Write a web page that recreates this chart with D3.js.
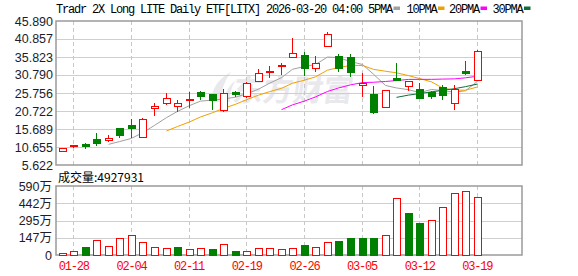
<!DOCTYPE html>
<html>
<head>
<meta charset="utf-8">
<script src="https://cdn.jsdelivr.net/npm/d3@7/dist/d3.min.js"></script>
<style>
body { margin: 0; background: #fff; }
svg { display: block; }
</style>
</head>
<body>
<div id="chart"></div>
<script>
// daily bars, 01-27 .. 03-19
const dates = ["01-27","01-28","01-29","01-30","02-02","02-03","02-04","02-05","02-06","02-09",
	"02-10","02-11","02-12","02-13","02-17","02-18","02-19","02-20","02-23","02-24",
	"02-25","02-26","02-27","03-02","03-03","03-04","03-05","03-06","03-09","03-10",
	"03-11","03-12","03-13","03-16","03-17","03-18","03-19"];
const open = [9.45,10.66,11.49,12.89,12.53,15.69,16.61,13.45,21.37,22.88,
	21.93,23.60,25.84,25.20,21.00,25.76,24.72,29.11,31.43,33.31,
	35.74,36.38,32.55,38.81,36.02,35.74,27.80,25.20,21.84,29.75,
	27.71,26.87,25.95,27.43,22.88,31.63,29.39];
const high = [10.38,11.30,11.86,14.57,14.01,15.88,18.57,18.76,22.88,25.84,
	23.80,25.95,26.40,25.39,26.79,26.31,28.75,32.55,33.31,34.23,
	41.22,37.14,36.10,42.73,36.58,36.58,31.26,27.71,26.60,34.23,
	29.11,28.55,26.40,27.99,27.99,34.79,37.86];
const low = [9.17,10.46,10.01,11.02,12.14,13.26,13.09,13.26,19.41,22.40,
	20.53,21.48,23.80,21.09,20.36,24.64,24.44,28.75,30.03,30.79,
	35.74,30.51,31.71,38.53,31.54,30.31,24.72,19.80,21.76,29.11,
	26.40,24.08,24.08,23.71,21.09,30.79,29.19];
const close = [10.18,11.13,10.74,11.77,13.17,14.01,15.69,18.48,22.12,24.08,
	22.68,23.80,24.72,23.52,25.67,25.20,28.47,31.26,31.82,33.50,
	36.86,32.47,33.95,42.25,32.66,31.43,28.36,20.36,26.51,29.19,
	29.00,24.27,24.72,25.00,26.87,31.07,37.50];
const volume = [150000,340000,600000,1200000,740000,1370000,1680000,1110000,660000,570000,
	600000,510000,570000,430000,940000,260000,340000,570000,570000,490000,
	570000,770000,660000,1030000,1140000,1450000,1370000,1450000,1710000,4850000,
	3530000,2680000,2910000,4020000,5270000,5470000,4927931];

const priceTicks = [5.622, 10.655, 15.689, 20.722, 25.756, 30.790, 35.823, 40.857, 45.890];
const volTicks = [0, 1475000, 2950000, 4425000, 5900000];
const dateTicks = ["01-28","02-04","02-11","02-19","02-26","03-05","03-12","03-19"];
const maPeriods = [5, 10, 20, 30];

const TITLE = "Tradr 2X Long LITE Daily ETF[LITX] 2026-03-20 04:00";
const RED = "#ff0000", GREEN = "#008000";
const MA_COLORS = ["#a0a0a0", "#f0a000", "#ff00ff", "#0d6e3a"];
const MONO = "'Liberation Mono', 'DejaVu Sans Mono', monospace";
const SANS = "Tahoma, 'Liberation Sans', 'Noto Sans CJK SC', sans-serif";

const W = 578, H = 276;
const plot = { L: 56, R: 522, T: 21, B: 165 };
const vol = { T: 186, B: 255 };
const STEP = 11.53;

const svg = d3.select("#chart").append("svg")
	.attr("width", W)
	.attr("height", H)
	.style("background", "#fff");

const x = d3.scaleBand()
	.domain(dates)
	.range([plot.L, plot.L + STEP * dates.length])
	.padding(0);
const cx = d => Math.round(x(d) + x.bandwidth() / 2);

const y = d3.scaleLinear()
	.domain([priceTicks[0], priceTicks[priceTicks.length - 1]])
	.range([plot.B, plot.T]);

const yv = d3.scaleLinear()
	.domain([0, volTicks[volTicks.length - 1]])
	.range([vol.B, vol.T]);

// watermark (logo + name)
const wm = svg.append("g").style("fill", "#e8e8ed");
wm.append("path")
	.attr("d", "M211,102 Q212,82 231,72 Q220,86 222,102 Z M224,102 Q225,88 236,80 Q229,90 230,102 Z");
wm.append("text")
	.attr("x", 232).attr("y", 101)
	.attr("transform", "skewX(-8) translate(14,0)")
	.style("font-family", "'Noto Sans CJK SC', sans-serif")
	.style("font-weight", "bold")
	.style("font-size", "30px")
	.text("东方财富");

// grid - horizontal
function hgrid(scale, ticks) {
	svg.append("g").selectAll("line")
		.data(ticks.slice(1, -1))
		.enter().append("line")
		.attr("x1", plot.L).attr("x2", plot.R)
		.attr("y1", d => Math.round(scale(d)) + 0.5)
		.attr("y2", d => Math.round(scale(d)) + 0.5)
		.attr("stroke", "#cfcfcf");
}
hgrid(y, priceTicks);
hgrid(yv, volTicks);

// grid - vertical dashed at date ticks
[[plot.T, plot.B], [vol.T, vol.B]].forEach(function(r) {
	svg.append("g").selectAll("line")
		.data(dateTicks)
		.enter().append("line")
		.attr("x1", d => cx(d) + 0.5).attr("x2", d => cx(d) + 0.5)
		.attr("y1", r[0]).attr("y2", r[1])
		.attr("stroke", "#c8c8c8")
		.attr("stroke-dasharray", "4,3");
});

// frames
[[plot.T, plot.B], [vol.T, vol.B]].forEach(function(r) {
	svg.append("rect")
		.attr("x", plot.L).attr("y", r[0])
		.attr("width", plot.R - plot.L).attr("height", r[1] - r[0])
		.attr("fill", "none")
		.attr("stroke", "#9a9a9a")
		.attr("stroke-width", 1.5);
});

// axes
const yAxis = d3.axisLeft(y).tickValues(priceTicks).tickFormat(d3.format(".3f")).tickSize(0).tickPadding(3);
const gy = svg.append("g").attr("transform", "translate(" + plot.L + ",0)").call(yAxis);

const vAxis = d3.axisLeft(yv).tickValues(volTicks)
	.tickFormat(d => d === 0 ? "0" : Math.floor(d / 10000) + "万")
	.tickSize(0).tickPadding(4);
const gv = svg.append("g").attr("transform", "translate(" + plot.L + ",0)").call(vAxis);

[gy, gv].forEach(function(g) {
	g.select(".domain").remove();
	g.selectAll("text")
		.style("font-family", SANS)
		.style("font-size", "12.5px")
		.style("fill", "#1c1c2c");
});

const xAxis = d3.axisBottom(x).tickValues(dateTicks).tickSize(0).tickPadding(6);
const gx = svg.append("g").attr("transform", "translate(0," + vol.B + ")").call(xAxis);
gx.select(".domain").remove();
gx.selectAll("text")
	.attr("x", 0.5)
	.style("font-family", MONO)
	.style("font-size", "12px")
	.style("letter-spacing", "-1.2px")
	.style("fill", RED);

// moving averages
maPeriods.forEach(function(n, k) {
	const ma = close.map((c, i) => i < n - 1 ? null : d3.mean(close.slice(i - n + 1, i + 1)));
	const line = d3.line()
		.defined(d => d != null)
		.x((d, i) => cx(dates[i]) + 0.5)
		.y(d => y(d));
	svg.append("path")
		.datum(ma)
		.attr("d", line)
		.attr("fill", "none")
		.attr("stroke", MA_COLORS[k])
		.attr("stroke-width", 1);
});

// candles
const idx = d3.range(dates.length);
const candle = svg.append("g").selectAll("g")
	.data(idx)
	.enter().append("g")
	.attr("shape-rendering", "crispEdges");

candle.append("line")
	.attr("x1", i => cx(dates[i]) + 0.5).attr("x2", i => cx(dates[i]) + 0.5)
	.attr("y1", i => y(high[i])).attr("y2", i => y(low[i]))
	.attr("stroke", i => close[i] >= open[i] ? RED : GREEN);

candle.append("rect")
	.attr("x", i => cx(dates[i]) - 3)
	.attr("width", 7)
	.attr("y", i => y(Math.max(open[i], close[i])))
	.attr("height", i => Math.max(1, Math.abs(y(open[i]) - y(close[i]))))
	.attr("fill", i => close[i] >= open[i] ? "#fff" : GREEN)
	.attr("stroke", i => close[i] >= open[i] ? RED : GREEN);

// volume, coloured by change from previous close
const volUp = i => i === 0 ? close[i] >= open[i] : close[i] >= close[i - 1];
svg.append("g").selectAll("rect")
	.data(idx)
	.enter().append("rect")
	.attr("shape-rendering", "crispEdges")
	.attr("x", i => cx(dates[i]) - 3)
	.attr("width", 7)
	.attr("y", i => yv(volume[i]))
	.attr("height", i => vol.B - yv(volume[i]))
	.attr("fill", i => volUp(i) ? "#fff" : GREEN)
	.attr("stroke", i => volUp(i) ? RED : GREEN);

// title + legend
svg.append("text")
	.attr("x", plot.L).attr("y", 13)
	.style("font-family", MONO)
	.style("font-size", "12px")
	.style("letter-spacing", "-1.2px")
	.style("fill", "#000")
	.text(TITLE);

const legendX = [368, 406.5, 449, 492.5];
maPeriods.forEach(function(n, k) {
	const label = n + "PMA";
	svg.append("text")
		.attr("x", legendX[k]).attr("y", 13)
		.style("font-family", MONO)
		.style("font-size", "12px")
		.style("letter-spacing", "-1.2px")
		.style("fill", "#000")
		.text(label);
	svg.append("rect")
		.attr("x", legendX[k] + label.length * 6 + 1.5).attr("y", 6.5)
		.attr("width", 6.5).attr("height", 3.5)
		.attr("fill", MA_COLORS[k]);
});

// volume caption
svg.append("text")
	.attr("x", 58).attr("y", 182)
	.style("font-family", "'Noto Sans CJK SC', sans-serif")
	.style("font-size", "12px")
	.style("fill", "#000")
	.text("成交量:" + volume[volume.length - 1]);
</script>
</body>
</html>
